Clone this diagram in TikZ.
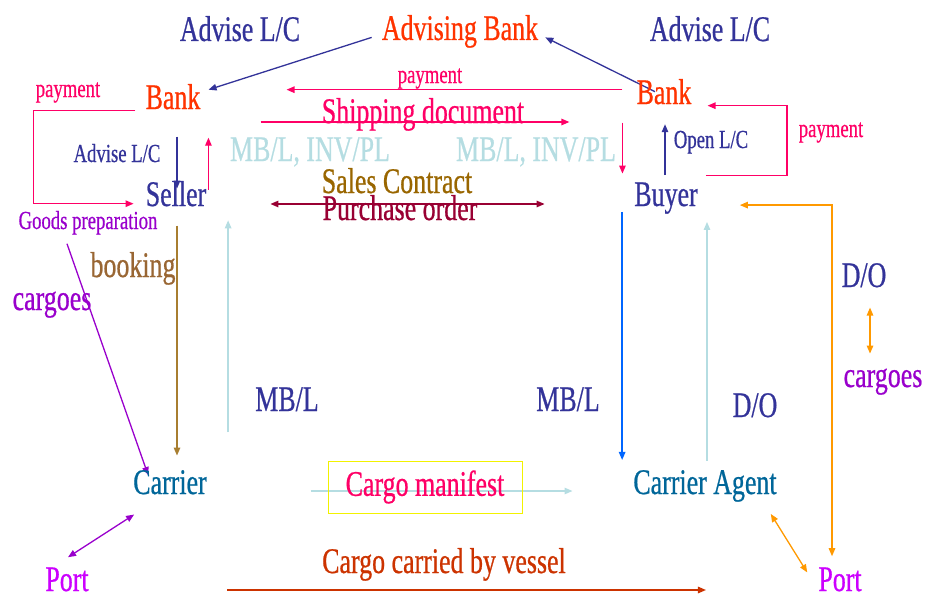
\documentclass[tikz,border=0pt]{standalone}
\usepackage{fontspec}
\setmainfont{Liberation Serif}[FakeStretch=0.72,FakeBold=0.6]
\usetikzlibrary{arrows.meta,backgrounds}
\definecolor{biru}{HTML}{333399}
\definecolor{bankmerah}{HTML}{FF3300}
\definecolor{merah}{HTML}{FF0066}
\definecolor{birumuda}{HTML}{B5DDE2}
\definecolor{coklat}{HTML}{996600}
\definecolor{coklatmuda}{HTML}{996633}
\definecolor{garisbooking}{HTML}{A87E30}
\definecolor{marun}{HTML}{990033}
\definecolor{ungu}{HTML}{9900CC}
\definecolor{lembayung}{HTML}{CC00FF}
\definecolor{tosca}{HTML}{006699}
\definecolor{kuning}{HTML}{F2F200}
\definecolor{bata}{HTML}{CC3300}
\definecolor{jingga}{HTML}{FF9900}
\definecolor{birutua}{HTML}{0066FF}
\begin{document}
\begin{tikzpicture}[x=1pt,y=-1pt,
      teks/.style={anchor=base,inner sep=0pt,font=\fontsize{36}{40}\selectfont},
      kecil/.style={anchor=base,inner sep=0pt,font=\fontsize{26}{28}\selectfont},
      panah/.style={-{Triangle[length=8pt,width=6.5pt]},line width=1.3pt},
      panahdua/.style={{Triangle[length=8pt,width=6.5pt]}-{Triangle[length=8pt,width=6.5pt]},line width=1.3pt}]
    \useasboundingbox (0,0) rectangle (925,594);
    % Bank
    \node[teks,text=bankmerah] (advbank) at (460,40) {Advising Bank};
    \node[teks,text=biru] (advL) at (240,41) {Advise L/C};
    \node[teks,text=biru] (advR) at (710,41) {Advise L/C};
    \node[teks,text=bankmerah] (bankL) at (173,109) {Bank};
    \node[teks,text=bankmerah] (bankR) at (664,104) {Bank};
    \node[kecil,text=merah] (payL) at (68,97) {payment};
    \node[kecil,text=merah] (payM) at (430,83) {payment};
    \node[kecil,text=merah] (payR) at (831,137) {payment};
    \node[teks,text=merah] (shipdoc) at (423,123) {Shipping document};
    \node[teks,text=birumuda] (docL) at (310,161) {MB/L, INV/PL};
    \node[teks,text=birumuda] (docR) at (536,161) {MB/L, INV/PL};
    \node[kecil,text=biru] (adviseS) at (117,162) {Advise L/C};
    \node[kecil,text=biru] (openlc) at (711,148) {Open L/C};
    % Penjual dan pembeli
    \node[teks,text=biru] (seller) at (176,206) {Seller};
    \node[teks,text=biru] (buyer) at (666,206) {Buyer};
    \node[teks,text=coklat] (contract) at (397,193) {Sales Contract};
    \node[teks,text=marun] (purchase) at (400,220) {Purchase order};
    \node[kecil,text=ungu] (goods) at (88,229) {Goods preparation};
    \node[teks,text=coklatmuda] (booking) at (133,277) {booking};
    \node[teks,text=ungu] (cargoL) at (52,310) {cargoes};
    \node[teks,text=biru] (doR) at (864,287) {D/O};
    \node[teks,text=ungu] (cargoR) at (883,387) {cargoes};
    \node[teks,text=biru] (mblL) at (287,411) {MB/L};
    \node[teks,text=biru] (mblR) at (568,411) {MB/L};
    \node[teks,text=biru] (doM) at (755,417) {D/O};
    % Pengangkut dan pelabuhan
    \node[teks,text=tosca] (carrier) at (170,494) {Carrier};
    \node[teks,text=merah,anchor=center,draw=kuning,line width=1pt,
      minimum width=194pt,minimum height=52pt] (manifest) at (425,487) {Cargo manifest};
    \node[teks,text=tosca] (agent) at (705,494) {Carrier Agent};
    \node[teks,text=bata] (vessel) at (444,573) {Cargo carried by vessel};
    \node[teks,text=lembayung] (portL) at (67,591) {Port};
    \node[teks,text=lembayung] (portR) at (840,591) {Port};
    % Panah
    \begin{scope}[on background layer]
      \draw[panah,biru] ([shift={(-10,6)}]advbank.west) -- ([shift={(8,-7)}]bankL.east);
      \draw[panah,biru] ([shift={(-9,0)}]bankR.center) -- ([shift={(7,6)}]advbank.east);
      \draw[panah,merah] ([shift={(-14,-2)}]bankR.west) -- ([shift={(86,-7)}]bankL.east);
      \draw[panah,merah] ([shift={(-61,-1)}]shipdoc.base west) -- ([shift={(45,-1)}]shipdoc.base east);
      \draw[panah,merah] ([shift={(-14,18)}]bankR.south west) -- ++(0,51);
      \draw[panah,biru] ([shift={(-1,-7)}]buyer.north) -- ++(0,-51);
      \draw[panah,merah] ([shift={(8,-7)}]buyer.north east) -- ++(81,0)
        |- ([shift={(16,14)}]bankR.east);
      \draw[panah,merah] ([shift={(-10,14)}]bankL.west) -- ++(-102,0)
        |- ([shift={(-12,10)}]seller.west);
      \draw[panah,biru] ([shift={(4,27)}]bankL.south) -- ++(0,52);
      \draw[panah,merah] ([shift={(2,-4)}]seller.east) -- ++(0,-52);
      \draw[panahdua,marun] ([shift={(-52,-16)}]purchase.base west) -- ([shift={(67,-16)}]purchase.base east);
      \draw[panahdua,jingga] ([shift={(-8,-11)}]portR.north) |- ([shift={(42,7)}]buyer.east);
      \draw[panahdua,jingga] ([shift={(6,20)}]doR.south) -- ++(0,46);
      \draw[panah,garisbooking] ([shift={(1,19)}]seller.south) -- ++(0,230);
      \draw[panah,birumuda] ([shift={(-27,33)}]mblL.west) -- ++(0,-212);
      \draw[panah,ungu] ([shift={(-21,9)}]goods.south) -- ([shift={(15,5)}]carrier.north west);
      \draw[panah,birutua] ([shift={(-12,-2)}]buyer.south west) -- ++(0,248);
      \draw[panah,birumuda] ([shift={(2,-9)}]agent.north) -- ++(0,-239);
      \draw[panah,birumuda] ([shift={(-17,4)}]manifest.west) -- ([shift={(50,4)}]manifest.east);
      \draw[panahdua,ungu] ([shift={(1,-10)}]portL.north) -- ([shift={(1,20)}]carrier.south west);
      \draw[panahdua,jingga] ([shift={(-6,12)}]agent.south east) -- ([shift={(-11,-7)}]portR.west);
      \draw[panah,bata] ([shift={(-95,17)}]vessel.base west) -- ([shift={(140,17)}]vessel.base east);
    \end{scope}
  \end{tikzpicture}
\end{document}
